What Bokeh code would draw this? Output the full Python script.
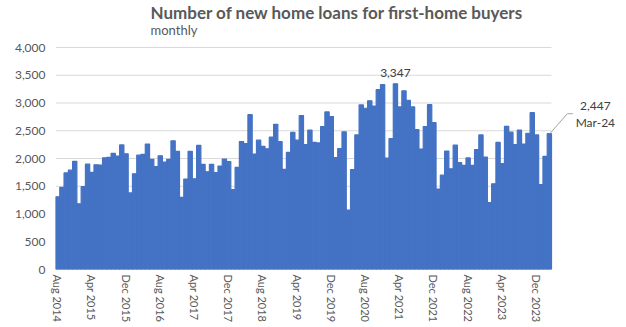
import pandas as pd
from bokeh.plotting import figure
from bokeh.models import Range1d, FixedTicker, NumeralTickFormatter, Label
from bokeh.embed import file_html
from bokeh.resources import INLINE

# ---- data ----
months = list(pd.date_range("2014-08-01", "2024-03-01", freq="MS").strftime("%b %Y"))
loans_2014 = [1310, 1480, 1740, 1790, 1950]
loans_2015 = [1183, 1495, 1898, 1750, 1887, 1882, 2013, 2020, 2093, 2045, 2244, 2085]
loans_2016 = [1380, 1725, 2060, 2075, 2260, 1985, 1855, 2050, 1935, 1985, 2320, 2130]
loans_2017 = [1300, 1630, 2130, 1635, 2235, 1895, 1760, 1895, 1745, 1865, 1990, 1945]
loans_2018 = [1440, 1840, 2305, 2270, 2790, 2080, 2330, 2220, 2175, 2385, 2615, 2305]
loans_2019 = [1805, 2110, 2470, 2330, 2775, 2250, 2510, 2290, 2280, 2575, 2840, 2755]
loans_2020 = [2015, 2180, 2480, 1070, 1800, 2425, 2965, 2905, 3040, 2945, 3240, 3330]
loans_2021 = [2005, 2360, 3347, 2930, 3220, 3050, 2930, 2520, 2170, 2575, 2970, 2645]
loans_2022 = [1450, 1700, 2135, 1815, 2240, 1925, 1875, 2010, 1875, 2160, 2425, 2025]
loans_2023 = [1205, 1545, 2290, 1910, 2580, 2475, 2250, 2510, 2260, 2455, 2825, 2425]
loans_2024 = [1530, 2040, 2447]
loans = (loans_2014 + loans_2015 + loans_2016 + loans_2017 + loans_2018 + loans_2019
         + loans_2020 + loans_2021 + loans_2022 + loans_2023 + loans_2024)
idx = list(range(len(loans)))
tick_idx = list(range(0, len(loans), 8))
tick_labels = [months[i] for i in tick_idx]
y_ticks = [0, 500, 1000, 1500, 2000, 2500, 3000, 3500, 4000]
peak_label = "3,347"
last_value_label = "2,447"
last_month_label = "Mar-24"

# ---- layout constants ----
W, H = 626, 327
LEFT, BOTTOM = 55, 58
PLOT_RIGHT = 551          # right edge of bar area in px
TOP_PX = 47               # px position of 4000
n = len(loans)
px_per_bar = (PLOT_RIGHT - LEFT) / n
frame_w = W - LEFT
frame_h = H - BOTTOM
units_per_px = y_ticks[-1] / (frame_h - TOP_PX)
x_end = -0.5 + frame_w / px_per_bar
y_end = frame_h * units_per_px

TEXT = "#595959"
FONT = "Lato"

p = figure(width=W, height=H, output_backend="svg", toolbar_location=None,
           x_range=Range1d(-0.5, x_end), y_range=Range1d(0, y_end),
           min_border_left=LEFT, min_border_right=0, min_border_top=0,
           min_border_bottom=BOTTOM)
p.outline_line_color = None
p.xgrid.visible = False
p.ygrid.visible = False
p.background_fill_color = "white"
p.border_fill_color = "white"

# gridlines across bar area only
p.segment(x0=[-0.5] * len(y_ticks), x1=[n - 0.5] * len(y_ticks), y0=y_ticks, y1=y_ticks,
          line_color="#d9d9d9", line_width=1)

p.vbar(x=idx, top=loans, width=1.0, fill_color="#4472C4", line_color="#4472C4", line_width=1.2)

# axes
p.xaxis.ticker = FixedTicker(ticks=tick_idx)
p.xaxis.major_label_overrides = {i: lab for i, lab in zip(tick_idx, tick_labels)}
p.xaxis.major_label_orientation = "vertical"
p.xaxis.axis_line_color = None
p.xaxis.major_tick_line_color = None
p.xaxis.minor_tick_line_color = None
p.xaxis.major_tick_out = 0
p.xaxis.major_tick_in = 0
p.xaxis.major_label_standoff = 5
p.xaxis.major_label_text_font = FONT
p.xaxis.major_label_text_font_size = "11px"
p.xaxis.major_label_text_color = TEXT

p.yaxis.ticker = FixedTicker(ticks=y_ticks)
p.yaxis.formatter = NumeralTickFormatter(format="0,0")
p.yaxis.axis_line_color = None
p.yaxis.major_tick_line_color = None
p.yaxis.minor_tick_line_color = None
p.yaxis.major_tick_out = 0
p.yaxis.major_tick_in = 0
p.yaxis.major_label_standoff = 10
p.yaxis.major_label_text_font = FONT
p.yaxis.major_label_text_font_size = "12px"
p.yaxis.major_label_text_color = TEXT

def px_to_x(px):
    return -0.5 + (px - LEFT) / px_per_bar

def py_to_y(py):
    return (frame_h - py) * units_per_px

# title and subtitle
p.add_layout(Label(x=px_to_x(150), y=py_to_y(12), text="Number of new home loans for first-home buyers",
                   text_font=FONT, text_font_style="bold", text_font_size="17px",
                   text_color=TEXT, text_baseline="middle", text_align="left"))
p.add_layout(Label(x=px_to_x(150), y=py_to_y(29), text="monthly",
                   text_font=FONT, text_font_size="13px",
                   text_color=TEXT, text_baseline="middle", text_align="left"))

# peak annotation
peak_i = loans.index(max(loans))
p.add_layout(Label(x=peak_i, y=loans[peak_i], y_offset=7, text=peak_label,
                   text_font=FONT, text_font_size="12px", text_color="#404040",
                   text_baseline="bottom", text_align="center"))

# last value annotation
last_i = n - 1
p.add_layout(Label(x=last_i, y=loans[last_i], x_offset=46, y_offset=28, text=last_value_label,
                   text_font=FONT, text_font_size="12px", text_color="#404040",
                   text_baseline="middle", text_align="center"))
p.add_layout(Label(x=last_i, y=loans[last_i], x_offset=46, y_offset=11, text=last_month_label,
                   text_font=FONT, text_font_size="12px", text_color="#404040",
                   text_baseline="middle", text_align="center"))
lx0 = last_i + 0.1
lx1 = last_i + 18 / px_per_bar
lx2 = last_i + 23.5 / px_per_bar
ly0 = loans[last_i]
ly1 = loans[last_i] + 20 * units_per_px
p.line(x=[lx0, lx1, lx2], y=[ly0, ly1, ly1], line_color="#a6a6a6", line_width=1)

open("out.html", "w").write(file_html(p, INLINE))
